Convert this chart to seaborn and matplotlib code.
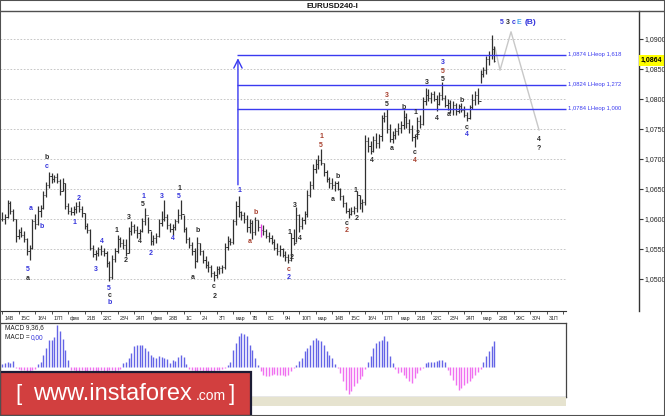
import numpy as np
import seaborn as sns
import matplotlib.pyplot as plt
import matplotlib.transforms as mtransforms
from matplotlib.patches import Rectangle
from matplotlib.lines import Line2D
from matplotlib.ticker import FuncFormatter

# 4h bars, prices as pips above 1.0000 (612 -> 1.0612)
high = [612, 608, 632, 630, 616, 600, 584, 586, 580, 568,
        556, 600, 608, 622, 624, 646, 662, 678, 676, 674,
        676, 666, 668, 660, 626, 620, 622, 628, 630, 622,
        610, 594, 584, 556, 548, 554, 556, 552, 546, 530,
        540, 552, 574, 570, 566, 566, 586, 596, 592, 588,
        584, 602, 618, 604, 580, 574, 576, 600, 614, 632,
        608, 594, 592, 600, 616, 632, 606, 586, 570, 562,
        552, 570, 560, 548, 538, 530, 524, 514, 522, 522,
        524, 560, 572, 568, 600, 630, 638, 614, 612, 606,
        600, 598, 604, 598, 592, 590, 584, 578, 574, 566,
        560, 556, 552, 546, 542, 576, 584, 620, 608, 604,
        614, 648, 664, 692, 700, 706, 716, 694, 682, 670,
        668, 664, 664, 652, 640, 628, 618, 620, 622, 646,
        640, 634, 740, 736, 730, 738, 744, 742, 774, 778,
        784, 758, 746, 752, 760, 764, 782, 776, 766, 756,
        742, 770, 774, 804, 818, 816, 812, 814, 806, 812,
        828, 806, 800, 798, 796, 794, 792, 794, 788, 778,
        790, 808, 814, 818, 848, 854, 872, 880, 907, 888]
low = [596, 592, 602, 608, 596, 562, 566, 570, 562, 540,
       532, 550, 584, 590, 604, 616, 636, 652, 660, 662,
       660, 640, 646, 616, 608, 606, 606, 610, 612, 604,
       584, 576, 548, 536, 532, 538, 540, 538, 520, 496,
       500, 528, 544, 554, 550, 538, 544, 574, 576, 568,
       568, 578, 590, 576, 556, 556, 560, 570, 588, 596,
       584, 578, 574, 582, 594, 600, 578, 560, 552, 540,
       518, 528, 540, 526, 518, 512, 504, 496, 502, 508,
       510, 516, 548, 556, 558, 590, 604, 598, 594, 578,
       576, 566, 574, 580, 570, 574, 568, 562, 558, 548,
       540, 538, 536, 530, 526, 530, 556, 562, 578, 584,
       592, 604, 636, 650, 676, 684, 690, 672, 662, 652,
       650, 646, 648, 632, 620, 610, 602, 606, 608, 612,
       616, 612, 624, 712, 708, 712, 718, 718, 730, 762,
       744, 728, 726, 734, 740, 744, 750, 752, 744, 730,
       720, 734, 752, 756, 790, 796, 794, 796, 780, 790,
       798, 786, 782, 776, 774, 774, 776, 778, 770, 764,
       766, 784, 790, 792, 826, 836, 842, 856, 866, 862]
close = [600, 604, 626, 614, 600, 572, 578, 574, 566, 546,
         552, 596, 592, 614, 618, 640, 656, 672, 666, 670,
         664, 646, 660, 622, 614, 612, 616, 622, 616, 610,
         588, 582, 552, 542, 544, 550, 546, 544, 526, 504,
         534, 546, 566, 560, 556, 544, 580, 588, 582, 576,
         580, 596, 606, 582, 564, 568, 572, 594, 600, 604,
         590, 584, 586, 596, 606, 608, 584, 566, 556, 546,
         530, 560, 546, 532, 524, 520, 510, 506, 516, 518,
         520, 554, 564, 562, 596, 622, 612, 606, 600, 586,
         594, 578, 598, 586, 582, 580, 572, 568, 562, 552,
         546, 550, 540, 536, 532, 568, 560, 606, 588, 598,
         608, 640, 656, 684, 692, 698, 694, 678, 666, 660,
         656, 660, 650, 638, 626, 614, 608, 614, 618, 640,
         626, 628, 730, 722, 714, 732, 726, 738, 768, 772,
         750, 734, 740, 746, 752, 756, 770, 760, 750, 736,
         738, 764, 758, 796, 806, 802, 808, 800, 792, 806,
         802, 790, 794, 784, 790, 780, 788, 782, 774, 768,
         786, 798, 806, 796, 842, 848, 866, 874, 884, 864]

# MACD(9,36,6) histogram, one value per bar
macd_hist = [3, 4, 5, 4, 6,
             -1, -2, -3, -3, -4, -4, -3, -2,
             3, 5, 12, 19, 27, 27, 30, 42, 36, 28, 17, 7,
             -3,
             -3, -4, -4, -3, -4, -4, -3, -4, -4, -4, -3, -4, -4, -3, -3, -4, -3, -2,
             4, 5, 9, 14, 21, 22, 22, 22, 19, 16, 12, 10, 9, 11, 10, 9, 8, 4, 7, 6, 10, 12, 10, 3,
             -2, -3, -4, -4, -3, -4, -4, -5, -4, -4, -3, -3, -2,
             -1, 2, 5, 17, 24, 31, 34, 33, 31, 22, 17, 9, 2,
             -4, -8, -9, -9, -8, -7, -8, -8, -8, -9, -8, -4, -1,
             2, 6, 9, 16, 19, 22, 27, 29, 27, 26, 22, 16, 12, 9, 3,
             -1, -6, -14, -23, -27, -24, -19, -16, -12, -9, -2,
             5, 11, 19, 24, 26, 27, 31, 26, 11, 4,
             -2, -6, -5, -8, -11, -14, -16, -11, -6, -3, -1,
             4, 5, 5, 5, 6, 7, 7, 5,
             -3, -8, -13, -18, -23, -21, -18, -16, -14, -11, -8, -5, -2,
             5, 11, 16, 21, 26]

day_names = ["14В", "15С", "16Ч", "17П", "фев", "21В", "22С", "23Ч", "24П", "фев",
             "28В", "1С", "2Ч", "3П", "мар", "7В", "8С", "9Ч", "10П", "мар",
             "14В", "15С", "16Ч", "17П", "мар", "21В", "22С", "23Ч", "24П", "мар",
             "28В", "29С", "30Ч", "31П"]

fib_prices = [1.0874, 1.0824, 1.0784]
fib_ratios = ["1,618", "1,272", "1,000"]
fib_start = 85.5

proj_bars = [179.3, 181.1, 185.1, 195.3]
proj_prices = [1.0885, 1.0848, 1.0912, 1.0748]

last_price = 1.0864

# wave marks: bar, pips, text, colour key
waves = [
    (9.5, 515, "5", "b"), (9.5, 500, "a", "k"), (10.5, 617, "a", "b"), (14.5, 588, "b", "b"),
    (16.4, 703, "b", "k"), (16.4, 688, "c", "b"), (26.2, 595, "1", "b"), (28.0, 635, "2", "b"),
    (34.2, 515, "3", "b"), (36.4, 563, "4", "b"), (38.9, 484, "5", "b"), (39.3, 472, "c", "k"),
    (39.3, 460, "b", "b"), (41.5, 580, "1", "k"), (45.1, 530, "2", "k"), (46.2, 603, "3", "k"),
    (50.2, 563, "4", "k"), (51.3, 637, "1", "b"), (51.3, 624, "5", "k"), (54.2, 543, "2", "b"),
    (58.2, 638, "3", "b"), (62.2, 568, "4", "b"), (64.4, 651, "1", "k"), (64.4, 638, "5", "b"),
    (69.5, 503, "a", "k"), (71.3, 580, "b", "k"), (77.1, 487, "c", "k"), (77.5, 470, "2", "k"),
    (86.2, 648, "1", "b"), (90.2, 563, "a", "r"), (92.4, 610, "b", "r"), (104.4, 515, "c", "r"),
    (104.4, 503, "2", "b"), (104.4, 578, "1", "k"), (105.5, 535, "2", "k"), (106.5, 622, "3", "k"),
    (108.4, 568, "4", "k"), (116.0, 737, "1", "r"), (116.0, 722, "5", "r"), (120.4, 633, "a", "k"),
    (122.2, 670, "b", "k"), (125.5, 592, "c", "k"), (125.5, 580, "2", "r"), (128.4, 648, "1", "k"),
    (129.1, 600, "2", "k"), (134.5, 697, "4", "k"), (140.0, 805, "3", "r"), (140.0, 790, "5", "k"),
    (141.8, 718, "a", "k"), (146.2, 785, "b", "k"), (150.2, 710, "c", "k"), (150.2, 697, "4", "r"),
    (150.5, 778, "1", "k"), (151.3, 743, "2", "k"), (154.5, 828, "3", "k"), (158.2, 768, "4", "k"),
    (160.4, 860, "3", "b"), (160.4, 846, "5", "r"), (160.4, 833, "5", "k"), (162.5, 775, "a", "k"),
    (167.3, 798, "b", "k"), (169.1, 753, "c", "k"), (169.1, 741, "4", "b"),
    (195.3, 733, "4", "k"), (195.3, 718, "?", "k"),
    (181.8, 927, "5", "b"), (184.0, 927, "3", "k"), (186.2, 927, "c", "b"),
    (188.0, 927, "E", "e"), (192.0, 927, "(B)", "b"),
]
wave_colors = {"b": "#3434dc", "k": "#2b2b2b", "r": "#a8402e", "e": "#45a4ea"}

sns.set_theme(style="white")
plt.rcParams["font.family"] = ["Liberation Sans", "DejaVu Sans"]

W, H = 665, 416


def box(x0, y0, x1, y1):
    return [x0 / W, 1 - y1 / H, (x1 - x0) / W, (y1 - y0) / H]


fig = plt.figure(figsize=(W / 100, H / 100), dpi=100)
fig.patch.set_facecolor("white")

xlo = -2 / 2.75
x_main = 637 / 2.75
x_sub = 564 / 2.75

hi = 1 + np.array(high) / 10000
lo = 1 + np.array(low) / 10000
cl = 1 + np.array(close) / 10000
op = np.concatenate([[cl[0]], cl[:-1]])
idx = np.arange(len(cl))

ax = fig.add_axes(box(0, 11, 639, 311))
ax.set_xlim(xlo, x_main)
ax.set_ylim(1.09 - 272 / 6000, 1.09 + 28 / 6000)
ax.set_facecolor("white")
for s in ["top", "left", "bottom"]:
    ax.spines[s].set_visible(False)
ax.spines["right"].set_color("#333333")
ax.spines["right"].set_linewidth(1)

yt = np.arange(10500, 10901, 50) / 10000
ax.set_yticks(yt)
ax.yaxis.tick_right()
ax.yaxis.set_major_formatter(FuncFormatter(lambda v, _: f"{v:.4f}".replace(".", ",")))
ax.tick_params(axis="y", right=True, left=False, length=3, width=0.8, color="#333333",
               pad=1, labelsize=5, labelcolor="#222222")
ax.set_xticks([])
ax.hlines(yt, xlo, x_sub, colors="#bdbdbd", linestyles=(0, (2, 2)), lw=0.6, zorder=0)

# bars
bar_col = ["#e040e0" if i == 94 else "#303030" for i in idx]
ax.vlines(idx, lo, hi, colors=bar_col, lw=0.9, zorder=2)
ax.hlines(op, idx - 0.45, idx, colors=bar_col, lw=0.7, zorder=2)
ax.hlines(cl, idx, idx + 0.45, colors=bar_col, lw=0.7, zorder=2)

# fibo levels
lvl_blue = "#3a3af0"
ax.hlines(fib_prices, fib_start, x_sub, colors=lvl_blue, lw=1, zorder=3)
for p, r in zip(fib_prices, fib_ratios):
    ax.text(x_sub + 0.7, p, f"{p:.4f}".replace(".", ",") + " LHeop " + r,
            fontsize=4.2, color=lvl_blue, ha="left", va="center")
ax.annotate("", xy=(85.8, 1.0868), xytext=(85.8, 1.0657),
            arrowprops=dict(arrowstyle="->,head_length=0.5,head_width=0.25",
                            color=lvl_blue, lw=1, shrinkA=0, shrinkB=0))

# projected path
sns.lineplot(x=proj_bars, y=proj_prices, ax=ax, color="#c8c8c8", lw=1, sort=False,
             zorder=1, legend=False)

for b, p, t, c in waves:
    ax.text(b, 1 + p / 10000, t, color=wave_colors[c], fontsize=6 if t == "(B)" else 5,
            fontweight="bold", ha="center", va="center", zorder=4)

trans = mtransforms.blended_transform_factory(ax.transAxes, ax.transData)
ax.text(1.003, last_price, f"{last_price:.4f}".replace(".", ","), transform=trans,
        ha="left", va="center", fontsize=5, fontweight="bold", color="black",
        bbox=dict(boxstyle="square,pad=0.25", fc="#ffff00", ec="none"),
        clip_on=False, zorder=6)

# date strip
ax_d = fig.add_axes(box(0, 311, 566, 323))
ax_d.set_xlim(xlo, x_sub)
ax_d.set_ylim(0, 1)
ax_d.set_facecolor("white")
for s in ["left", "right", "bottom"]:
    ax_d.spines[s].set_visible(False)
ax_d.spines["top"].set_color("#333333")
ax_d.spines["top"].set_linewidth(0.8)
ax_d.set_xticks(np.arange(0, 35 * 6, 6))
ax_d.set_yticks([])
ax_d.tick_params(axis="x", top=True, bottom=False, direction="in", length=2, width=0.6,
                 color="#333333", labelbottom=False, labeltop=False)
for k, name in enumerate(day_names):
    ax_d.text(6 * k + 0.8, 0.4, name, fontsize=3.8, ha="left", va="center", color="#222222")

# MACD panel
ax_m = fig.add_axes(box(0, 323, 566, 397))
ax_m.set_xlim(xlo, x_sub)
ax_m.set_ylim(-30, 44)
ax_m.set_facecolor("white")
ax_m.set_xticks([])
ax_m.set_yticks([])
for s in ax_m.spines.values():
    s.set_color("#444444")
    s.set_linewidth(0.9)
mh = np.array(macd_hist)
pos = mh > 0
ax_m.vlines(idx[pos], 0, mh[pos], colors="#6464e6", lw=1)
ax_m.vlines(idx[~pos], 0, mh[~pos], colors="#f070f0", lw=1)
ax_m.text(5 / 566, 0.94, "MACD 9,36,6", transform=ax_m.transAxes, fontsize=4.7,
          ha="left", va="center", color="#222222")
ax_m.text(5 / 566, 0.81, "MACD =", transform=ax_m.transAxes, fontsize=4.7,
          ha="left", va="center", color="#222222")
ax_m.text(31 / 566, 0.81, "0,00", transform=ax_m.transAxes, fontsize=4.7,
          ha="left", va="center", color="#3434dc")

# figure furniture
fig.add_artist(Rectangle((0, 1 - 406 / H), 566 / W, 9 / H, transform=fig.transFigure,
                         fc="#e6e3cf", ec="none", zorder=2))
fig.add_artist(Line2D([0, 1], [1 - 11 / H] * 2, transform=fig.transFigure,
                      color="#505050", lw=1, zorder=10))
fig.add_artist(Rectangle((0, 0), 1, 1, transform=fig.transFigure, fill=False,
                         ec="#505050", lw=1.5, zorder=10))
fig.text(332 / W, 1 - 6 / H, "EURUSD240-I", ha="center", va="center",
         fontsize=5.8, fontweight="bold", color="#111111")

# banner
fig.add_artist(Rectangle((0, 0), 251 / W, 44 / H, transform=fig.transFigure,
                         fc="#d23f3f", ec="#1c1c34", lw=1.6, zorder=5))
fig.text(15 / W, 1 - 400 / H, "[", fontsize=16, color="white", ha="left",
         va="baseline", zorder=6)
fig.text(33 / W, 1 - 400 / H, "www.instaforex", fontsize=17, color="white",
         ha="left", va="baseline", zorder=6)
fig.text(196 / W, 1 - 400 / H, ".com", fontsize=10, color="white", ha="left",
         va="baseline", zorder=6)
fig.text(229 / W, 1 - 400 / H, "]", fontsize=16, color="white", ha="left",
         va="baseline", zorder=6)

fig.savefig("out.png", dpi=100)
